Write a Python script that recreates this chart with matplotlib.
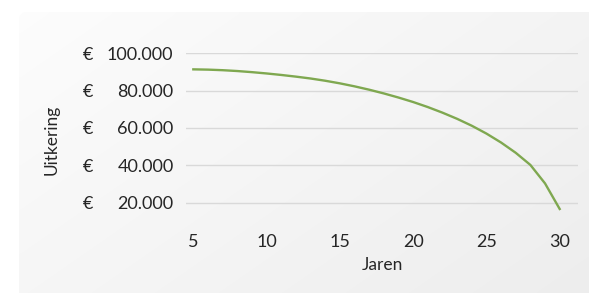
import numpy as np
import matplotlib
matplotlib.use("Agg")
import matplotlib.pyplot as plt
from matplotlib.patches import FancyBboxPatch
from matplotlib.ticker import FixedLocator, FuncFormatter

# data
jaren = list(range(5, 31))
uitkering = [91400, 91250, 90950, 90500, 89900, 89200, 88400, 87500, 86500,
             85300, 83900, 82300, 80500, 78500, 76300, 73900, 71200, 68200,
             64900, 61200, 57000, 52200, 46700, 40200, 30300, 16600]
y_ticks = [20000, 40000, 60000, 80000, 100000]
x_ticks = [5, 10, 15, 20, 25, 30]

plt.rcParams['font.family'] = ['Lato', 'DejaVu Sans']
tekst = '#262626'

fig = plt.figure(figsize=(5.89, 2.93), dpi=100)
fig.patch.set_facecolor('white')

# achtergrond paneel met lichte gradient (linksboven licht, rechtsonder grijzer)
bg = fig.add_axes([0, 0, 1, 1], zorder=0)
bg.set_xlim(0, 589)
bg.set_ylim(293, 0)
bg.axis('off')
gx, gy = np.meshgrid(np.linspace(0, 1, 200), np.linspace(0, 1, 100))
grijs = 0.99 - 0.035 * gx - 0.025 * gy
rgb = np.dstack([grijs, grijs, grijs])
img = bg.imshow(rgb, extent=[19, 589, 296, 12], aspect='auto', interpolation='bicubic')
panel = FancyBboxPatch((19, 12), 580, 300, boxstyle='round,pad=0,rounding_size=8',
                       facecolor='none', edgecolor='none', transform=bg.transData)
bg.add_patch(panel)
img.set_clip_path(panel)

ax = fig.add_axes([186 / 589, 1 - 221.3 / 293, (578 - 186) / 589, (221.3 - 53.3) / 293], zorder=1)
ax.patch.set_alpha(0)
ax.plot(jaren, uitkering, color='#7fa850', linewidth=1.7, solid_joinstyle='round')

ax.set_xlim(4.5, 31.25)
ax.set_ylim(10000, 100000)
ax.yaxis.set_major_locator(FixedLocator(y_ticks))
ax.xaxis.set_major_locator(FixedLocator(x_ticks))
ax.yaxis.set_major_formatter(FuncFormatter(lambda v, p: f"{int(v):,}".replace(',', '.')))
ax.grid(axis='y', color='#d9d9d9', linewidth=1.0)
ax.set_axisbelow(True)
for s in ax.spines.values():
    s.set_visible(False)
ax.tick_params(axis='both', length=0, labelcolor=tekst, labelsize=13)
ax.tick_params(axis='y', pad=9)
ax.tick_params(axis='x', pad=9)

# euro teken links uitgelijnd, zelfde basislijn als de getallen
for v in y_ticks:
    ax.text(-103 / 392, v, '€', transform=ax.get_yaxis_transform(), ha='left',
            va='center_baseline', fontsize=13, color=tekst)

ax.set_xlabel('Jaren', fontsize=12.5, color=tekst, labelpad=5)
fig.text(52 / 589, 1 - 140 / 293, 'Uitkering', rotation=90, ha='center', va='center',
         fontsize=12.5, color=tekst)

fig.savefig('out.png', dpi=100)
